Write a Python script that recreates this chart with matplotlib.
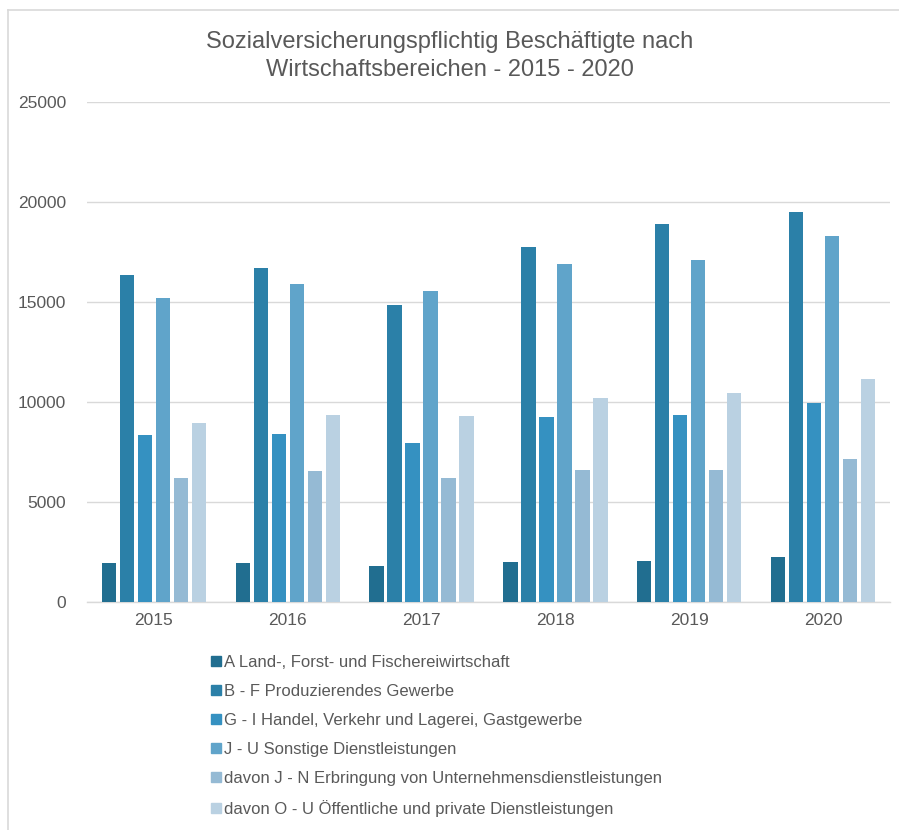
import matplotlib.pyplot as plt
import numpy as np
from matplotlib.lines import Line2D

plt.rcParams['font.family'] = ['Liberation Sans', 'DejaVu Sans']

# Data
years = ['2015', '2016', '2017', '2018', '2019', '2020']
series_names = [
    'A Land-, Forst- und Fischereiwirtschaft',
    'B - F Produzierendes Gewerbe',
    'G - I Handel, Verkehr und Lagerei, Gastgewerbe',
    'J - U Sonstige Dienstleistungen',
    'davon J - N Erbringung von Unternehmensdienstleistungen',
    'davon O - U Öffentliche und private Dienstleistungen',
]
a_land = [1970, 1970, 1790, 2000, 2050, 2240]
bf_prod = [16370, 16700, 14840, 17750, 18880, 19520]
gi_handel = [8340, 8420, 7950, 9250, 9350, 9970]
ju_sonst = [15220, 15900, 15540, 16920, 17120, 18320]
jn_unter = [6220, 6540, 6200, 6620, 6590, 7140]
ou_oeff = [8940, 9350, 9300, 10220, 10470, 11140]
values = [a_land, bf_prod, gi_handel, ju_sonst, jn_unter, ou_oeff]

colors = ['#216e90', '#2b80a8', '#3591c1', '#60a4ca', '#95bad4', '#bad1e2']
text_col = '#595959'
grid_col = '#d9d9d9'

fig = plt.figure(figsize=(8.99, 8.30), dpi=100)
ax = fig.add_axes([87 / 899, 1 - 602 / 830, (890 - 87) / 899, 500 / 830])

x = np.arange(len(years))
pitch = 0.1345
width = 0.107
for i, (vals, col) in enumerate(zip(values, colors)):
    ax.bar(x + (i - 2.5) * pitch, vals, width=width, color=col, zorder=3)

ax.set_xlim(-0.5, len(years) - 0.5)
ax.set_ylim(0, 25000)
ax.set_yticks(np.arange(0, 25001, 5000))
ax.set_xticks(x)
ax.set_xticklabels(years)
ax.yaxis.grid(True, color=grid_col, linewidth=1, zorder=0)
for s in ['top', 'right', 'left']:
    ax.spines[s].set_visible(False)
ax.spines['bottom'].set_color(grid_col)
ax.spines['bottom'].set_linewidth(1)
ax.tick_params(axis='both', length=0, labelsize=12.5, labelcolor=text_col)
ax.tick_params(axis='y', pad=15)
ax.tick_params(axis='x', pad=8)

# Title
fig.text(0.5, 1 - 42 / 830, 'Sozialversicherungspflichtig Beschäftigte nach',
         ha='center', va='center', fontsize=17, color=text_col)
fig.text(0.5, 1 - 70 / 830, 'Wirtschaftsbereichen - 2015 - 2020',
         ha='center', va='center', fontsize=17, color=text_col)

# Legend below the plot
handles = [Line2D([0], [0], marker='s', linestyle='none', markersize=6.5,
                  markerfacecolor=c, markeredgecolor=c) for c in colors]
fig.legend(handles, series_names, loc='upper left',
           bbox_to_anchor=(203 / 899, 1 - 647 / 830), frameon=False,
           fontsize=12, labelcolor=text_col, handlelength=0.6,
           handletextpad=0.15, labelspacing=0.84, borderpad=0)

# Chart area border (left and top)
fig.add_artist(Line2D([8 / 899, 8 / 899], [0, 1 - 10 / 830], color=grid_col,
                      linewidth=1.2, transform=fig.transFigure))
fig.add_artist(Line2D([8 / 899, 1], [1 - 10 / 830, 1 - 10 / 830], color=grid_col,
                      linewidth=1.2, transform=fig.transFigure))

fig.savefig('out.png', dpi=100)
